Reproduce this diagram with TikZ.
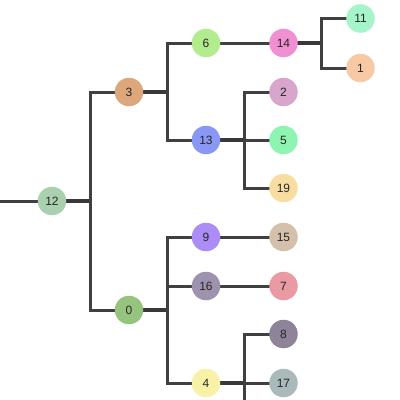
\documentclass[tikz,border=0pt]{standalone}
\usepackage{fontspec}
\setmainfont{Liberation Sans}
\begin{document}
\begin{tikzpicture}[x=1pt,y=-1pt,
  tn/.style={circle,minimum size=28.5pt,inner sep=0pt,font=\fontsize{12}{14}\selectfont,text=black!85},
  plink/.style={draw=black!78,line width=3.8pt},
  clink/.style={draw=black!75,line width=3pt}]
\useasboundingbox (0,0) rectangle (400,400);
\clip (0,0) rectangle (400,400);
\definecolor{c12}{HTML}{A9D1B0}
\definecolor{c3}{HTML}{DDA77C}
\definecolor{c0}{HTML}{96C47E}
\definecolor{c6}{HTML}{B3EC8E}
\definecolor{c13}{HTML}{8A97F5}
\definecolor{c9}{HTML}{AC8CF5}
\definecolor{c16}{HTML}{9E93AE}
\definecolor{c4}{HTML}{F8F2A8}
\definecolor{c14}{HTML}{F08FD2}
\definecolor{c2}{HTML}{D8A5CC}
\definecolor{c5}{HTML}{8EF4B2}
\definecolor{c19}{HTML}{F7DDA2}
\definecolor{c15}{HTML}{D4C0AB}
\definecolor{c7}{HTML}{EA9AA2}
\definecolor{c8}{HTML}{8F8399}
\definecolor{c17}{HTML}{AAB9B9}
\definecolor{c11}{HTML}{A5F4CA}
\definecolor{c1}{HTML}{F7CAA5}
% coordinates
\coordinate (p12) at (52,201);
\coordinate (p3) at (129,92);
\coordinate (p0) at (129,310);
\coordinate (p6) at (206,43);
\coordinate (p13) at (206,140);
\coordinate (p9) at (206,237);
\coordinate (p16) at (206,286);
\coordinate (p4) at (206,383);
\coordinate (p14) at (283.5,43);
\coordinate (p2) at (283.5,92);
\coordinate (p5) at (283.5,140);
\coordinate (p19) at (283.5,188);
\coordinate (p15) at (283.5,237);
\coordinate (p7) at (283.5,286);
\coordinate (p8) at (283.5,334);
\coordinate (p17) at (283.5,383);
\coordinate (p11) at (360.5,18.5);
\coordinate (p1) at (360.5,68);
\coordinate (top) at (-20,201);
\coordinate (below) at (283.5,431);
% connectors
\draw[clink] (top) -- (p12);
\draw[plink] (p12) -- (90,201);
\draw[clink] (90,201) |- (p3);
\draw[clink] (90,201) |- (p0);
\draw[plink] (p3) -- (167,92);
\draw[clink] (167,92) |- (p6);
\draw[clink] (167,92) |- (p13);
\draw[clink] (p6) -- (p14);
\draw[plink] (p14) -- (321.5,43);
\draw[clink] (321.5,43) |- (p11);
\draw[clink] (321.5,43) |- (p1);
\draw[plink] (p13) -- (244.5,140);
\draw[clink] (244.5,140) |- (p2);
\draw[clink] (244.5,140) -- (p5);
\draw[clink] (244.5,140) |- (p19);
\draw[plink] (p0) -- (167,310);
\draw[clink] (167,310) |- (p9);
\draw[clink] (167,310) |- (p16);
\draw[clink] (167,310) |- (p4);
\draw[clink] (p9) -- (p15);
\draw[clink] (p16) -- (p7);
\draw[plink] (p4) -- (244.5,383);
\draw[clink] (244.5,383) |- (p8);
\draw[clink] (244.5,383) -- (p17);
\draw[clink] (244.5,383) |- (below);
% nodes
\node[tn,fill=c12] (n12) at (p12) {12};
\node[tn,fill=c3] (n3) at (p3) {3};
\node[tn,fill=c0] (n0) at (p0) {0};
\node[tn,fill=c6] (n6) at (p6) {6};
\node[tn,fill=c13] (n13) at (p13) {13};
\node[tn,fill=c9] (n9) at (p9) {9};
\node[tn,fill=c16] (n16) at (p16) {16};
\node[tn,fill=c4] (n4) at (p4) {4};
\node[tn,fill=c14] (n14) at (p14) {14};
\node[tn,fill=c2] (n2) at (p2) {2};
\node[tn,fill=c5] (n5) at (p5) {5};
\node[tn,fill=c19] (n19) at (p19) {19};
\node[tn,fill=c15] (n15) at (p15) {15};
\node[tn,fill=c7] (n7) at (p7) {7};
\node[tn,fill=c8] (n8) at (p8) {8};
\node[tn,fill=c17] (n17) at (p17) {17};
\node[tn,fill=c11] (n11) at (p11) {11};
\node[tn,fill=c1] (n1) at (p1) {1};
\end{tikzpicture}
\end{document}
